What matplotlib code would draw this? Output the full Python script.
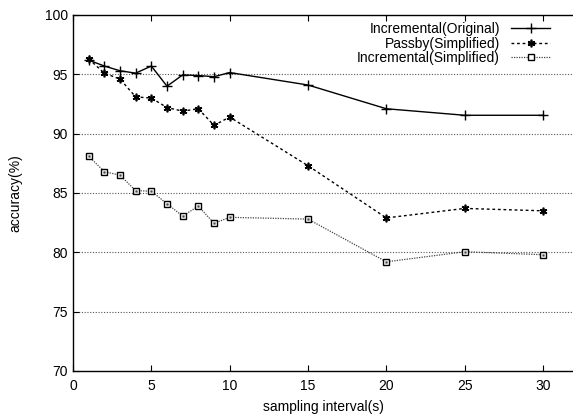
import matplotlib
matplotlib.use("Agg")
import matplotlib.pyplot as plt

x = [1, 2, 3, 4, 5, 6, 7, 8, 9, 10, 15, 20, 25, 30]
inc_orig = [96.2, 95.7, 95.3, 95.1, 95.7, 94.0, 94.95, 94.9, 94.8, 95.15, 94.1, 92.1, 91.55, 91.55]
passby = [96.3, 95.1, 94.6, 93.1, 93.0, 92.2, 91.9, 92.1, 90.7, 91.4, 87.3, 82.9, 83.7, 83.5]
inc_simp = [88.1, 86.8, 86.5, 85.2, 85.15, 84.1, 83.05, 83.9, 82.45, 82.95, 82.8, 79.2, 80.05, 79.8]
labels = ["Incremental(Original)", "Passby(Simplified)", "Incremental(Simplified)"]
xticks = [0, 5, 10, 15, 20, 25, 30]
yticks = [70, 75, 80, 85, 90, 95, 100]

plt.rcParams['font.family'] = ['Liberation Sans', 'DejaVu Sans']
plt.rcParams['font.size'] = 10

fig = plt.figure(figsize=(5.73, 4.16), dpi=100)
W, H = 573, 416
left, right, top, bottom = 73, 574, 15, 371
ax = fig.add_axes([left / W, (H - bottom) / H, (right - left) / W, (bottom - top) / H])

px_per_unit = (543 - 73) / 30.0
ax.set_xlim(0, (right - left) / px_per_unit)
ax.set_ylim(70, 100)

for yv in yticks[1:-1]:
    ax.axhline(yv, color='#555555', lw=0.8, ls=(0, (1, 1.5)), zorder=0)

ax.plot(x, inc_orig, color='black', lw=1.0, ls='-', marker='+', ms=6.5, mew=1.0, label=labels[0])
ax.plot(x, passby, color='black', lw=1.0, ls=(0, (2, 2)), marker=(6, 2, 0), ms=5.5, mew=1.2, label=labels[1])
ax.plot(x, inc_simp, color='#444444', lw=0.9, ls=(0, (1, 1)), marker='s', ms=4.8, mfc='white', mec='black', mew=1.0, label=labels[2])
ax.plot(x, inc_simp, ls='none', marker='s', ms=1.2, mfc='#444444', mec='#444444', mew=0.3)

ax.set_xticks(xticks)
ax.set_yticks(yticks)
ax.tick_params(direction='in', top=True, right=False, length=4, width=0.8, labelsize=10, colors='black')
ax.tick_params(axis='x', pad=6)
ax.spines['right'].set_visible(False)
for s in ['left', 'top', 'bottom']:
    ax.spines[s].set_linewidth(1.0)

ax.set_xlabel("sampling interval(s)", fontsize=10, labelpad=5)
ax.set_ylabel("accuracy(%)", fontsize=10, labelpad=16)

leg = ax.legend(loc='upper right', bbox_to_anchor=((557 - left) / (right - left), 1.0),
                markerfirst=False, frameon=False, handlelength=2.8, handletextpad=0.8,
                labelspacing=0.05, borderaxespad=0.1, fontsize=10)
for t in leg.get_texts():
    t.set_ha('right')

fig.savefig("out.png", dpi=100)
